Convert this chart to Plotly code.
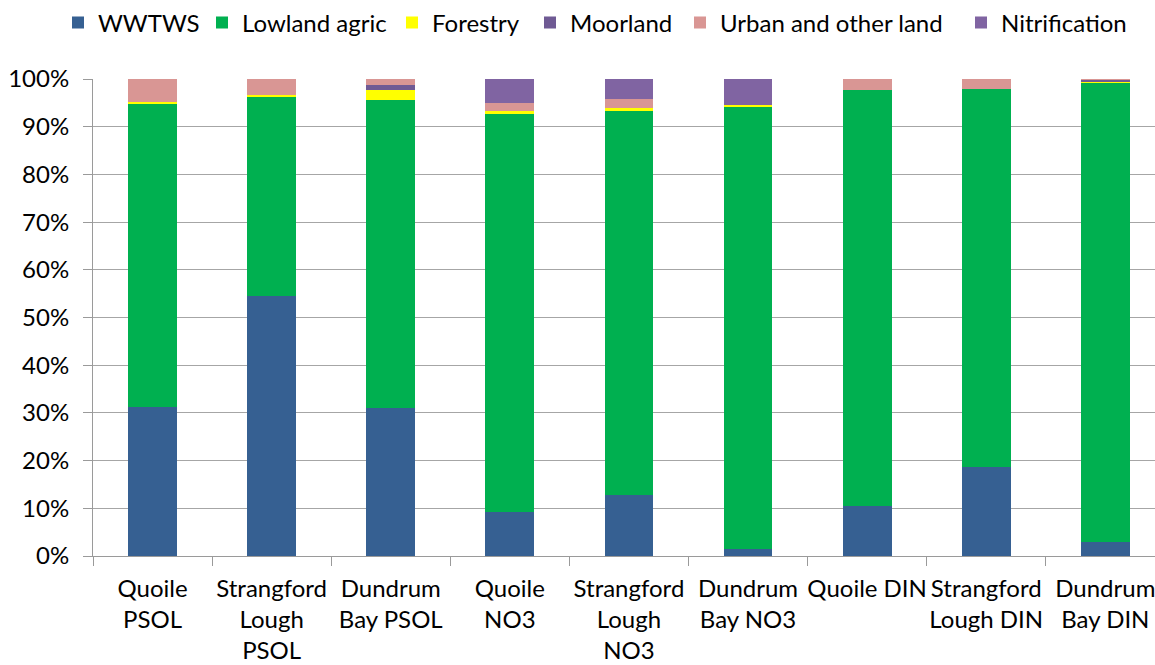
import plotly.graph_objects as go

# Source apportionment of nutrient loads (fraction of total, stacked to 100%)
categories = [
    "Quoile<br>PSOL",
    "Strangford<br>Lough<br>PSOL",
    "Dundrum<br>Bay PSOL",
    "Quoile<br>NO3",
    "Strangford<br>Lough<br>NO3",
    "Dundrum<br>Bay NO3",
    "Quoile DIN",
    "Strangford<br>Lough DIN",
    "Dundrum<br>Bay DIN",
]

wwtws         = [31.3, 54.5, 31.0,  9.2, 12.7,  1.4, 10.4, 18.6,  3.0]
lowland_agric = [63.4, 41.8, 64.7, 83.6, 80.8, 92.8, 87.3, 79.4, 96.3]
forestry      = [ 0.5,  0.35, 1.9,  0.4,  0.4,  0.35, 0.0,  0.0,  0.2]
moorland      = [ 0.0,  0.0,  1.1,  0.0,  0.0,  0.0,  0.0,  0.0,  0.3]
urban_other   = [ 4.8,  3.35, 1.3,  1.8,  1.9,  0.0,  2.3,  2.0,  0.2]
nitrification = [ 0.0,  0.0,  0.0,  5.0,  4.2,  5.45, 0.0,  0.0,  0.0]

series = [
    ("WWTWS", wwtws, "#366092"),
    ("Lowland agric", lowland_agric, "#00B050"),
    ("Forestry", forestry, "#FFFF00"),
    ("Moorland", moorland, "#6F5A94"),
    ("Urban and other land", urban_other, "#D99694"),
    ("Nitrification", nitrification, "#8064A2"),
]

W, H = 1155, 665
FONT = "Lato"
FS = 24

# left edge of each legend entry (px, container coordinates)
legend_left = [58, 202, 392, 530, 680, 961]

fig = go.Figure()
for i, (name, vals, color) in enumerate(series):
    total = [v / 100.0 for v in vals]
    fig.add_trace(go.Bar(
        x=categories,
        y=total,
        name=name,
        marker=dict(color=color, line=dict(width=0)),
        legend="legend" if i == 0 else f"legend{i + 1}",
    ))

layout_legends = {}
for i, left in enumerate(legend_left):
    key = "legend" if i == 0 else f"legend{i + 1}"
    layout_legends[key] = dict(
        x=left / W, xref="container", xanchor="left",
        y=1 - 23 / H, yref="container", yanchor="middle",
        orientation="h",
        font=dict(family=FONT, size=FS, color="#000000"),
        bgcolor="rgba(0,0,0,0)",
        borderwidth=0,
        itemclick=False,
    )

fig.update_layout(
    width=W, height=H,
    margin=dict(l=93, r=0, t=79, b=109),
    barmode="stack",
    bargap=0.59,
    plot_bgcolor="white",
    paper_bgcolor="white",
    font=dict(family=FONT, size=FS, color="#000000"),
    showlegend=True,
    **layout_legends,
)

fig.update_xaxes(
    type="category",
    range=[-0.5, 8.417],
    automargin=False,
    tickangle=0,
    showline=True, linecolor="#9a9a9a", linewidth=1,
    ticks="outside", tickson="boundaries", ticklen=9, tickcolor="#9a9a9a",
    showgrid=False,
    tickfont=dict(family=FONT, size=FS),
    ticklabelstandoff=11,
)
fig.update_yaxes(
    range=[0, 1],
    automargin=False,
    dtick=0.1,
    tickformat=".0%",
    showgrid=True, gridcolor="#a6a6a6", gridwidth=1,
    showline=True, linecolor="#9a9a9a", linewidth=1,
    ticks="outside", ticklen=9, tickcolor="#9a9a9a",
    tickfont=dict(family=FONT, size=FS),
    ticklabelstandoff=9,
    zeroline=False,
)

fig.write_html("out.html")
